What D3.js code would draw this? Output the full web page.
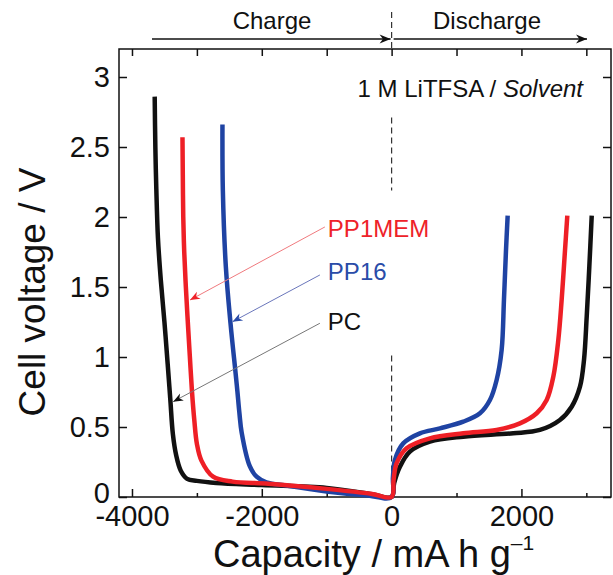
<!DOCTYPE html>
<html>
  <head>
	<meta charset="utf-8">
	<title>Cell voltage vs capacity</title>
	<script src="https://d3js.org/d3.v7.min.js"></script>
	<style>
		body { margin: 0; background: #fff; }
		text { font-family: "Liberation Sans", Arial, sans-serif; }
	</style>
  </head>
  <body>
	<svg id="chart" width="613" height="575"></svg>
	<script type="text/javascript">
		// charge branches (capacity < 0)
		var pcCharge = [[0,0],[-300,0.02],[-1000,0.065],[-2000,0.085],[-2700,0.1],[-3000,0.115],[-3150,0.13],[-3250,0.19],
			[-3320,0.3],[-3370,0.45],[-3410,0.7],[-3450,0.95],[-3500,1.25],[-3556,1.55],[-3600,1.85],[-3625,2.2],
			[-3640,2.5],[-3650,2.86]];
		var pp1memCharge = [[0,0],[-300,0.022],[-1000,0.058],[-1900,0.095],[-2450,0.11],[-2750,0.145],[-2930,0.26],
			[-3000,0.38],[-3040,0.55],[-3075,0.75],[-3108,1.0],[-3140,1.25],[-3170,1.5],[-3195,1.75],[-3210,2.0],
			[-3217,2.3],[-3222,2.57]];
		var pp16Charge = [[0,0],[-400,0.012],[-1000,0.04],[-1600,0.08],[-1930,0.105],[-2080,0.145],[-2185,0.22],
			[-2310,0.46],[-2345,0.6],[-2375,0.75],[-2404,0.886],[-2482,1.24],[-2554,1.645],[-2600,2.19],[-2606,2.66]];

		// discharge branches (capacity > 0)
		var pcDischarge = [[0,0],[40,0.1],[128,0.216],[282,0.324],[590,0.395],[1104,0.431],[1874,0.455],[2285,0.479],
			[2593,0.55],[2774,0.645],[2902,0.788],[2964,0.979],[3006,1.29],[3046,1.645],[3083,2.01]];
		var pp1memDischarge = [[0,0],[30,0.12],[77,0.241],[231,0.348],[590,0.419],[1104,0.455],[1618,0.479],[1977,0.526],
			[2235,0.598],[2389,0.693],[2491,0.859],[2568,1.12],[2620,1.41],[2671,1.76],[2707,2.01]];
		var pp16Discharge = [[0,0],[20,0.14],[51,0.264],[179,0.383],[436,0.455],[744,0.49],[1104,0.538],[1361,0.598],
			[1515,0.693],[1618,0.836],[1695,1.05],[1731,1.41],[1762,1.76],[1788,2.01]];

		var seriesNames = ["PC", "PP16", "PP1MEM"];
		var xMajor = [-4000, -2000, 0, 2000];
		var xMinor = [-3000, -1000, 1000, 3000];
		var yTicks = [0, 0.5, 1, 1.5, 2, 2.5, 3];

		var margin = {top: 49, bottom: 78, right: 2, left: 119},
			width = 613 - margin.left - margin.right,
			height = 575 - margin.top - margin.bottom;

		var colors = {"PC": "#111111", "PP16": "#1f43a3", "PP1MEM": "#ee1f26"};
		var textColors = {"PC": "#111111", "PP16": "#2a4ca8", "PP1MEM": "#ee2229"};
		var pointerColors = {"PC": "#777777", "PP16": "#6a76bb", "PP1MEM": "#f07a7e"};

		var svg = d3.select("#chart");
		var chart = svg.append("g")
			.attr("transform", "translate(" + margin.left + "," + margin.top + ")");

		var xScale = d3.scaleLinear().domain([-4200, 3380]).range([0, width]);
		var yScale = d3.scaleLinear().domain([0, 3.2]).range([height, 0]);

		var defs = svg.append("defs");
		function addArrow(id, color, len, half) {
			defs.append("marker")
				.attr("id", id)
				.attr("markerUnits", "userSpaceOnUse")
				.attr("viewBox", (-len - 1) + " " + (-half - 1) + " " + (len + 2) + " " + (2 * half + 2))
				.attr("markerWidth", len + 2)
				.attr("markerHeight", 2 * half + 2)
				.attr("refX", 0)
				.attr("refY", 0)
				.attr("orient", "auto")
			  .append("path")
				.attr("d", "M" + (-len) + "," + (-half) + "L0,0L" + (-len) + "," + half + "L" + (-len * 0.7) + ",0Z")
				.attr("fill", color);
		}
		addArrow("arrowBlack", "#111", 11, 4.5);
		seriesNames.forEach(function(s) { addArrow("arrow" + s, textColors[s], 10, 4); });

		//Dashed line at zero capacity, broken where the reference leaves gaps
		function dashed(y1, y2) {
			chart.append("line")
				.attr("x1", xScale(0)).attr("x2", xScale(0))
				.attr("y1", y1).attr("y2", y2)
				.attr("stroke", "#333").attr("stroke-width", 1.2).attr("stroke-dasharray", "6,4");
		}
		dashed(-37, 0);
		dashed(yScale(2.71), yScale(2.19));
		dashed(yScale(1.01), yScale(0));

		//Axes with inward ticks
		function styleAxis(g) {
			g.select(".domain").remove();
			g.selectAll(".tick line").attr("stroke", "#111").attr("stroke-width", 1.5);
			g.selectAll(".tick text").attr("font-size", 29).attr("fill", "#111")
				.attr("font-family", "'Liberation Sans', Arial, sans-serif");
		}
		var fmt = function(d) { return String(d); };

		chart.append("g")
			.attr("transform", "translate(0," + height + ")")
			.call(d3.axisBottom(xScale).tickValues(xMajor).tickSize(-8).tickPadding(8).tickFormat(fmt))
			.call(styleAxis);
		chart.append("g")
			.attr("transform", "translate(0," + height + ")")
			.call(d3.axisBottom(xScale).tickValues(xMinor).tickSize(-4).tickFormat(""))
			.call(styleAxis);
		chart.append("g")
			.call(d3.axisTop(xScale).tickValues(xMajor.concat(xMinor)).tickSize(-7).tickFormat(""))
			.call(styleAxis);
		var yAxis = chart.append("g")
			.call(d3.axisLeft(yScale).tickValues(yTicks).tickSize(-8).tickPadding(9).tickFormat(fmt))
			.call(styleAxis);
		yAxis.selectAll(".tick text").filter(function(d) { return d === 0; }).attr("y", -4);
		chart.append("g")
			.attr("transform", "translate(" + width + ",0)")
			.call(d3.axisRight(yScale).tickValues(yTicks).tickSize(-8).tickFormat(""))
			.call(styleAxis);

		chart.append("rect")
			.attr("width", width).attr("height", height)
			.attr("fill", "none").attr("stroke", "#111").attr("stroke-width", 1.5);

		//Curves: charge branch reversed then discharge branch
		var curves = {
			"PC": pcCharge.slice().reverse().concat(pcDischarge.slice(1)),
			"PP16": pp16Charge.slice().reverse().concat(pp16Discharge.slice(1)),
			"PP1MEM": pp1memCharge.slice().reverse().concat(pp1memDischarge.slice(1))
		};
		var line = d3.line()
			.x(function(d) { return xScale(d[0]); })
			.y(function(d) { return yScale(d[1]); })
			.curve(d3.curveCatmullRom.alpha(0.5));

		chart.selectAll(".curve")
			.data(seriesNames)
		  .enter().append("path")
			.attr("class", "curve")
			.attr("d", function(s) { return line(curves[s]); })
			.attr("fill", "none")
			.attr("stroke", function(s) { return colors[s]; })
			.attr("stroke-width", 4.5)
			.attr("stroke-linejoin", "round");

		//Labels pointing at curves
		var labelPos = {"PP1MEM": [-982, 1.859], "PP16": [-982, 1.55], "PC": [-982, 1.193]};
		var pointerFrom = {"PP1MEM": [-1028, 1.929], "PP16": [-1105, 1.586], "PC": [-1105, 1.241]};
		var pointerTo = {"PP1MEM": [-3106, 1.407], "PP16": [-2451, 1.252], "PC": [-3366, 0.681]};

		seriesNames.forEach(function(s) {
			chart.append("line")
				.attr("x1", xScale(pointerFrom[s][0])).attr("y1", yScale(pointerFrom[s][1]))
				.attr("x2", xScale(pointerTo[s][0])).attr("y2", yScale(pointerTo[s][1]))
				.attr("stroke", pointerColors[s]).attr("stroke-width", 1)
				.attr("marker-end", "url(#arrow" + s + ")");
			chart.append("text")
				.attr("x", xScale(labelPos[s][0])).attr("y", yScale(labelPos[s][1]))
				.attr("font-size", 24)
				.attr("fill", textColors[s])
				.text(s);
		});

		chart.append("text")
			.attr("x", 464).attr("y", 48)
			.attr("text-anchor", "end")
			.attr("font-size", 24)
			.attr("fill", "#111")
			.text("1 M LiTFSA / ")
		  .append("tspan")
			.attr("font-style", "italic")
			.text("Solvent");

		//Charge / Discharge arrows above the frame
		chart.append("line")
			.attr("x1", 33).attr("x2", xScale(0) - 1).attr("y1", -10).attr("y2", -10)
			.attr("stroke", "#111").attr("stroke-width", 1.3)
			.attr("marker-end", "url(#arrowBlack)");
		chart.append("line")
			.attr("x1", xScale(0) + 2).attr("x2", 468).attr("y1", -10).attr("y2", -10)
			.attr("stroke", "#111").attr("stroke-width", 1.3)
			.attr("marker-end", "url(#arrowBlack)");
		chart.append("text")
			.attr("x", 153).attr("y", -20)
			.attr("text-anchor", "middle").attr("font-size", 24).attr("fill", "#111")
			.text("Charge");
		chart.append("text")
			.attr("x", 368).attr("y", -20)
			.attr("text-anchor", "middle").attr("font-size", 24).attr("fill", "#111")
			.text("Discharge");

		//Axis titles
		svg.append("text")
			.attr("transform", "translate(45,292) rotate(-90)")
			.attr("text-anchor", "middle")
			.attr("font-size", 37)
			.attr("fill", "#111")
			.text("Cell voltage / V");

		var xTitle = svg.append("text")
			.attr("x", 213).attr("y", 567)
			.attr("font-size", 38)
			.attr("fill", "#111");
		xTitle.append("tspan").text("Capacity / mA h g");
		xTitle.append("tspan")
			.attr("font-size", 21)
			.attr("dy", -17)
			.text("\u20131");
	</script>
  </body>
</html>
